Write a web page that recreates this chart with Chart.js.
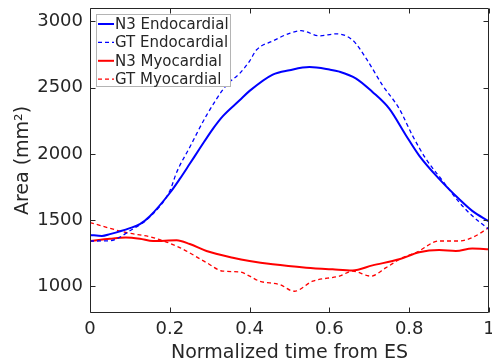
<!DOCTYPE html>
<html>
<head>
<meta charset="utf-8">
<script src="https://cdn.jsdelivr.net/npm/chart.js@4.4.0/dist/chart.umd.min.js"></script>
<style>
  html, body { margin: 0; padding: 0; background: #fff; }
  #wrap { width: 492px; height: 364px; }
</style>
</head>
<body>
<div id="wrap"><canvas id="area"></canvas></div>
<script>
// values
const n3EndoT = [0, 0.03, 0.05, 0.1, 0.125, 0.15, 0.2, 0.225, 0.25, 0.275, 0.308, 0.333, 0.375, 0.4, 0.458, 0.5, 0.55, 0.6, 0.625, 0.667, 0.708, 0.75, 0.792, 0.825, 0.875, 0.925, 0.958, 1.0];
const n3Endo  = [1389, 1381, 1395, 1440, 1470, 1530, 1705, 1811, 1925, 2040, 2189, 2285, 2404, 2475, 2598, 2631, 2655, 2636, 2620, 2568, 2467, 2341, 2139, 1987, 1811, 1659, 1570, 1490];

const gtEndoT = [0, 0.05, 0.1, 0.15, 0.2, 0.217, 0.25, 0.292, 0.342, 0.375, 0.4, 0.417, 0.458, 0.5, 0.529, 0.575, 0.617, 0.658, 0.692, 0.733, 0.775, 0.808, 0.842, 0.883, 0.925, 0.958, 1.0];
const gtEndo  = [1343, 1345, 1420, 1525, 1720, 1860, 2050, 2290, 2518, 2606, 2700, 2783, 2851, 2909, 2929, 2890, 2905, 2858, 2720, 2518, 2341, 2139, 1962, 1800, 1636, 1533, 1430];

const n3MyoT = [0, 0.05, 0.09, 0.125, 0.158, 0.217, 0.25, 0.292, 0.358, 0.4, 0.458, 0.542, 0.608, 0.658, 0.708, 0.775, 0.825, 0.875, 0.917, 0.958, 1.0];
const n3Myo  = [1343, 1360, 1369, 1360, 1343, 1348, 1320, 1268, 1217, 1192, 1167, 1142, 1129, 1121, 1159, 1205, 1258, 1275, 1268, 1286, 1280];

const gtMyoT = [0, 0.09, 0.158, 0.225, 0.292, 0.333, 0.375, 0.4, 0.425, 0.475, 0.512, 0.558, 0.625, 0.658, 0.704, 0.742, 0.783, 0.817, 0.875, 0.925, 0.958, 1.0];
const gtMyo  = [1482, 1407, 1369, 1293, 1180, 1116, 1110, 1078, 1040, 1015, 964, 1040, 1078, 1116, 1078, 1142, 1217, 1255, 1343, 1343, 1369, 1444];

const xTicks = [0, 0.2, 0.4, 0.6, 0.8, 1];
const yTicks = [1000, 1500, 2000, 2500, 3000];

function pts(t, v) {
  return t.map(function(x, i) { return { x: x, y: v[i] }; });
}

const ink = '#262626';
const font = 'DejaVu Sans';

// MATLAB style box with inward ticks + legend in the upper left
const boxPlugin = {
  id: 'box',
  afterDraw(chart) {
    const ctx = chart.ctx;
    const a = chart.chartArea;
    const xs = chart.scales.x, ys = chart.scales.y;
    const len = 5;
    const L = Math.round(a.left) + 0.5, R = Math.round(a.right) - 0.5;
    const T = Math.round(a.top) + 0.5, B = Math.round(a.bottom) - 0.5;
    ctx.save();
    ctx.strokeStyle = ink;
    ctx.lineWidth = 1;
    ctx.beginPath();
    ctx.moveTo(L, T); ctx.lineTo(R, T); ctx.lineTo(R, B); ctx.lineTo(L, B); ctx.closePath();
    xTicks.forEach(function(v) {
      const px = Math.round(xs.getPixelForValue(v)) + 0.5;
      ctx.moveTo(px, B); ctx.lineTo(px, B - len);
      ctx.moveTo(px, T); ctx.lineTo(px, T + len);
    });
    yTicks.forEach(function(v) {
      const py = Math.round(ys.getPixelForValue(v)) + 0.5;
      ctx.moveTo(L, py); ctx.lineTo(L + len, py);
      ctx.moveTo(R, py); ctx.lineTo(R - len, py);
    });
    ctx.stroke();

    // legend
    const lx = 96.5, ly = 14.5, lw = 134, lh = 72;
    ctx.fillStyle = '#fff';
    ctx.fillRect(lx, ly, lw, lh);
    ctx.strokeStyle = '#b4b4b4';
    ctx.strokeRect(lx, ly, lw, lh);
    ctx.font = '15px "' + font + '"';
    ctx.textBaseline = 'middle';
    chart.data.datasets.forEach(function(ds, i) {
      const y = 24 + i * 18.4;
      ctx.beginPath();
      ctx.strokeStyle = ds.borderColor;
      ctx.lineWidth = ds.borderWidth;
      ctx.setLineDash(ds.borderDash || []);
      ctx.moveTo(98, y); ctx.lineTo(114, y);
      ctx.stroke();
      ctx.setLineDash([]);
      ctx.fillStyle = ink;
      ctx.fillText(ds.label, 115, y + 1);
    });
    ctx.restore();
  }
};

const areaData = {
  datasets: [
    {
      label: 'N3 Endocardial',
      data: pts(n3EndoT, n3Endo),
      borderColor: '#0000ff',
      borderWidth: 2,
    },
    {
      label: 'GT Endocardial',
      data: pts(gtEndoT, gtEndo),
      borderColor: '#0000ff',
      borderWidth: 1.3,
      borderDash: [4, 3],
    },
    {
      label: 'N3 Myocardial',
      data: pts(n3MyoT, n3Myo),
      borderColor: '#ff0000',
      borderWidth: 2,
    },
    {
      label: 'GT Myocardial',
      data: pts(gtMyoT, gtMyo),
      borderColor: '#ff0000',
      borderWidth: 1.3,
      borderDash: [4, 3],
    }
  ]
};

const areaConfig = {
  type: 'line',
  data: areaData,
  plugins: [boxPlugin],
  options: {
    responsive: true,
    maintainAspectRatio: false,
    animation: false,
    layout: { padding: { top: 8, right: 3, left: 0, bottom: 0 } },
    elements: {
      point: { radius: 0 },
      line: { cubicInterpolationMode: 'monotone' }
    },
    plugins: {
      legend: { display: false },
      tooltip: { enabled: false }
    },
    scales: {
      x: {
        type: 'linear',
        min: 0,
        max: 1,
        afterBuildTicks: function(s) { s.ticks = xTicks.map(function(v) { return { value: v }; }); },
        afterFit: function(s) { s.height = 51; s.paddingLeft = 0; s.paddingRight = 0; },
        grid: { display: false, drawTicks: false },
        border: { display: false },
        ticks: {
          color: ink,
          padding: 6,
          maxRotation: 0,
          font: { family: font, size: 18 },
          callback: function(v) { return String(v); }
        },
        title: {
          display: true,
          text: 'Normalized time from ES',
          color: ink,
          padding: 0,
          font: { family: font, size: 19 }
        }
      },
      y: {
        type: 'linear',
        min: 800,
        max: 3100,
        afterBuildTicks: function(s) { s.ticks = yTicks.map(function(v) { return { value: v }; }); },
        afterFit: function(s) { s.width = 90; s.paddingTop = 0; s.paddingBottom = 0; },
        grid: { display: false, drawTicks: false },
        border: { display: false },
        ticks: {
          color: ink,
          padding: 7,
          font: { family: font, size: 18 },
          callback: function(v) { return String(v); }
        },
        title: {
          display: true,
          text: 'Area (mm²)',
          color: ink,
          padding: { top: 12, bottom: 0 },
          font: { family: font, size: 19 }
        }
      }
    }
  }
};

new Chart(document.getElementById('area'), areaConfig);
</script>
</body>
</html>
